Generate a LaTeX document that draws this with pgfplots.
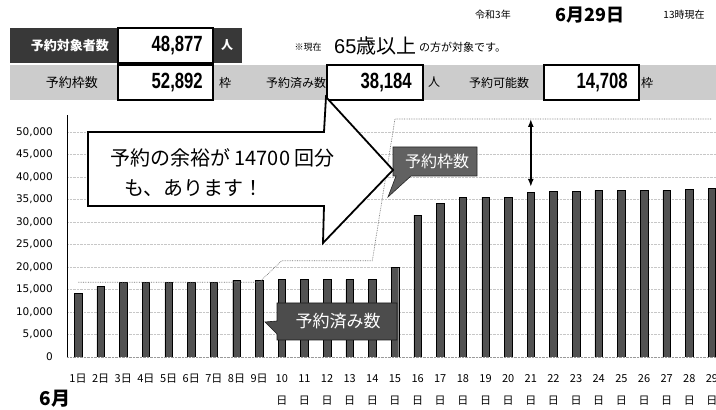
\documentclass[border=0pt]{standalone}
\usepackage{fontspec}
\setmainfont{Noto Sans CJK JP}
\newfontfamily\numfont{Liberation Sans}
\newfontfamily\tickfont{DejaVu Sans}
\usepackage{pgfplots}
\usepackage{pgfplotstable}
\pgfplotsset{compat=1.18}
\usetikzlibrary{arrows.meta}

% day, booked (予約済み数), slots (予約枠数)
\pgfplotstableread{
day booked slots
1  14200 16600
2  15700 16600
3  16600 16600
4  16600 16600
5  16600 16600
6  16600 16600
7  16600 16600
8  17000 16600
9  17000 16600
10 17200 21400
11 17200 21400
12 17200 21400
13 17200 21400
14 17200 21400
15 19900 52892
16 31500 52892
17 34200 52892
18 35500 52892
19 35500 52892
20 35500 52892
21 36600 52892
22 36800 52892
23 36800 52892
24 37000 52892
25 37000 52892
26 37000 52892
27 37000 52892
28 37300 52892
29 37500 52892
}\reserv

\newcommand{\bignum}[1]{\scalebox{0.76}[1]{\numfont\bfseries\fontsize{22}{22}\selectfont #1}}

\begin{document}
\begin{tikzpicture}

% ---- chart (south west corner of the axis at the picture origin) ----
\begin{axis}[
  scale only axis, width=649pt, height=242pt,
  xmin=0.514, xmax=29.18, ymin=0, ymax=53778,
  axis x line*=bottom, axis y line*=left,
  axis line style={-},
  x axis line style={black!40, densely dotted},
  y axis line style={black, line width=0.6pt},
  major tick length=0pt,
  ytick={0,5000,...,50000},
  scaled y ticks=false,
  ymajorgrids, major grid style={black!22, densely dotted, line width=0.4pt},
  /pgf/number format/fixed,
  /pgf/number format/1000 sep={,},
  /pgf/number format/assume math mode=true,
  yticklabel style={font=\tickfont\fontsize{10.5}{12}\selectfont, inner sep=0pt, xshift=-14pt},
  xtick={1,...,29},
  xticklabels={1日,2日,3日,4日,5日,6日,7日,8日,9日,{10\\日},{11\\日},{12\\日},{13\\日},{14\\日},{15\\日},{16\\日},{17\\日},{18\\日},{19\\日},{20\\日},{21\\日},{22\\日},{23\\日},{24\\日},{25\\日},{26\\日},{27\\日},{28\\日},{29\\日}},
  xticklabel style={align=center, font=\fontsize{11}{22}\selectfont, anchor=north, inner sep=0pt, yshift=-17pt},
  clip=true,
]
\addplot[ybar, bar width=7.5pt, fill=black!68, draw=black] table[x=day, y=booked] {\reserv};
\addplot[sharp plot, no marks, black!55, densely dotted, line width=0.7pt] table[x=day, y=slots] {\reserv};
\draw[{Latex[length=8pt,width=6pt]}-{Latex[length=8pt,width=6pt]}, line width=1.6pt] (axis cs:21,52892) -- (axis cs:21,37800);
\end{axis}

% everything else in reference pixel coordinates (origin top-left, y down)
\begin{scope}[shift={(-67pt,357pt)}, x=1pt, y=1pt]
% ---- header ----
\node[font=\fontsize{10}{10}\selectfont] at (493,-15) {令和3年};
\node[font=\bfseries\fontsize{18}{18}\selectfont] at (590,-15) {6月29日};
\node[font=\fontsize{10}{10}\selectfont] at (684,-15) {13時現在};

\fill[black!78] (10,-28) rectangle (117,-63);
\node[white, font=\bfseries\fontsize{13}{13}\selectfont] at (70,-45.5) {予約対象者数};
\fill[black!78] (213,-28) rectangle (242,-63);
\node[white, font=\bfseries\fontsize{12}{12}\selectfont] at (227,-45.5) {人};
\node[font=\fontsize{9}{9}\selectfont] at (308,-47) {※現在};
\node[font=\fontsize{20}{20}\selectfont, anchor=west, inner sep=0pt] at (334,-45.5) {{\numfont 65}歳以上};
\node[font=\fontsize{11}{11}\selectfont, anchor=west, inner sep=0pt] at (419,-47) {の方が対象です。};

\fill[black!20] (10,-65) rectangle (716,-100);
\node[font=\fontsize{13}{13}\selectfont] at (72,-82.5) {予約枠数};
\node[font=\fontsize{12}{12}\selectfont] at (225,-82.5) {枠};
\node[font=\fontsize{12}{12}\selectfont] at (296,-82.5) {予約済み数};
\node[font=\fontsize{12}{12}\selectfont] at (434,-82.5) {人};
\node[font=\fontsize{12}{12}\selectfont] at (499,-82.5) {予約可能数};
\node[font=\fontsize{12}{12}\selectfont] at (647,-82.5) {枠};

\draw[fill=white, line width=1.3pt] (118,-28) rectangle (213,-63);
\draw[fill=white, line width=1.3pt] (118,-65) rectangle (213,-100);
\draw[fill=white, line width=1.3pt] (327,-65) rectangle (423,-100);
\draw[fill=white, line width=1.3pt] (544,-65) rectangle (639,-100);
\node[anchor=east, inner sep=0pt] at (203,-45.5) {\bignum{48,877}};
\node[anchor=east, inner sep=0pt] at (203,-82.5) {\bignum{52,892}};
\node[anchor=east, inner sep=0pt] at (412,-82.5) {\bignum{38,184}};
\node[anchor=east, inner sep=0pt] at (628,-82.5) {\bignum{14,708}};

\node[font=\bfseries\fontsize{19}{19}\selectfont] at (55,-399) {6月};

% ---- callouts ----
\draw[fill=black!62, draw=black!85, line width=0.6pt] (393,-147) -- (477,-147) -- (477,-176) -- (411,-176) -- (388,-197) -- (396,-176) -- (393,-176) -- cycle;
\node[white, font=\fontsize{16}{16}\selectfont] at (437,-161) {予約枠数};

\draw[fill=black!70, draw=black!90, line width=0.6pt] (277,-303) -- (397,-303) -- (397,-340) -- (277,-340) -- (277,-334) -- (265,-322) -- (277,-321) -- cycle;
\node[white, font=\fontsize{17}{17}\selectfont] at (338,-321) {予約済み数};

\draw[fill=white, line width=1.8pt, line join=miter] (88,-132) -- (324,-132) -- (326,-97) -- (393,-170) -- (323,-243) -- (324,-206) -- (88,-206) -- cycle;
\node[anchor=west, inner sep=0pt, font=\fontsize{20}{20}\selectfont] at (110,-158) {予約の余裕が 14700 回分};
\node[anchor=west, inner sep=0pt, font=\fontsize{20}{20}\selectfont] at (124,-188) {も、あります！};
\end{scope}

\pgfresetboundingbox
\path[use as bounding box] (-67pt,357pt) rectangle (649pt,-53pt);
\end{tikzpicture}
\end{document}
